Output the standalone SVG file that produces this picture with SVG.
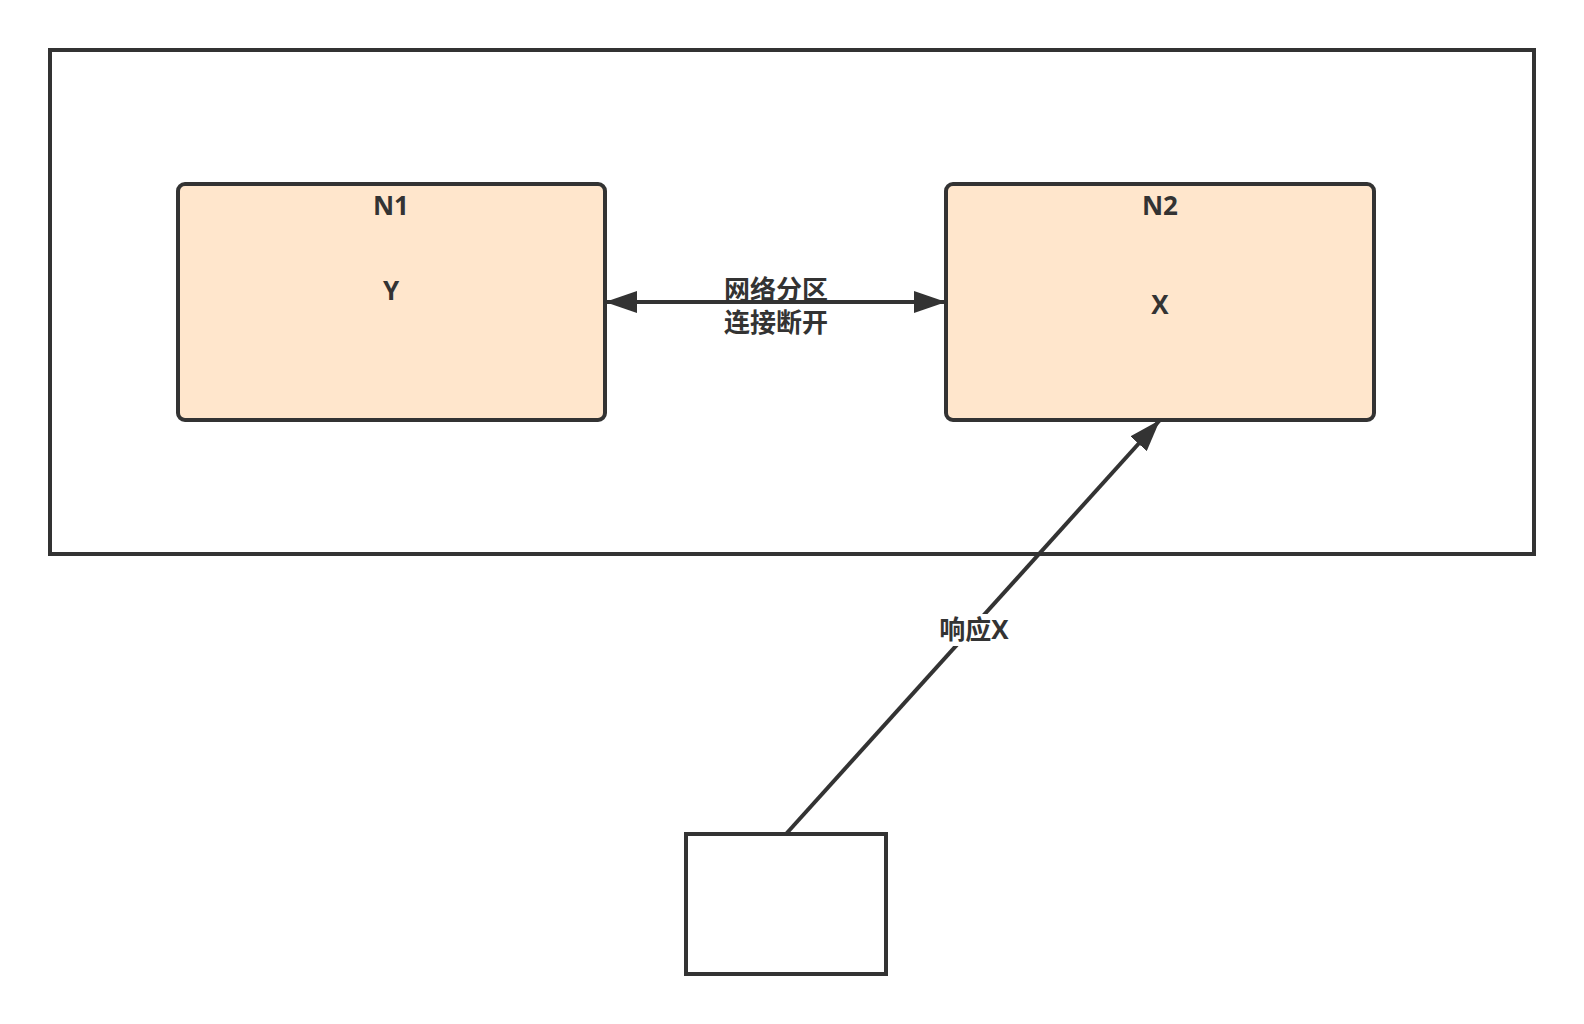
<svg xmlns="http://www.w3.org/2000/svg" width="1584" height="1024" viewBox="0 0 1584 1024">
  <style>
    .box { stroke: #333333; stroke-width: 4; }
    .node { fill: #ffe6cc; }
    .plain { fill: #ffffff; }
    .edge { stroke: #333333; stroke-width: 4; fill: none; }
    .t { font-family: "Open Sans", "Noto Sans CJK SC", sans-serif; font-weight: bold; font-size: 26px; fill: #333333; text-anchor: middle; dominant-baseline: central; }
  </style>
  <defs>
    <marker id="arr" viewBox="0 0 32 22" refX="32" refY="11" markerWidth="32" markerHeight="22" markerUnits="userSpaceOnUse" orient="auto-start-reverse">
      <path d="M0,0 L32,11 L0,22 Z" fill="#333333"/>
    </marker>
  </defs>
  <rect width="1584" height="1024" fill="#ffffff"/>
  <g id="container">
    <rect class="box" x="50" y="50" width="1484" height="504" fill="none"/>
  </g>
  <g id="N1">
    <rect class="box node" x="178" y="184" width="427" height="236" rx="7"/>
    <text class="t" x="391" y="205">N1</text>
    <text class="t" x="391" y="290">Y</text>
  </g>
  <g id="N2">
    <rect class="box node" x="946" y="184" width="428" height="236" rx="7"/>
    <text class="t" x="1160" y="205">N2</text>
    <text class="t" x="1160" y="304">X</text>
  </g>
  <g id="client">
    <rect class="box plain" x="686" y="834" width="200" height="140"/>
  </g>
  <g id="connectors">
    <line class="edge" x1="605" y1="302" x2="946" y2="302" marker-start="url(#arr)" marker-end="url(#arr)"/>
    <text class="t" x="776" y="289">网络分区</text>
    <text class="t" x="776" y="322">连接断开</text>
    <line class="edge" x1="786" y1="834" x2="1160" y2="420" marker-end="url(#arr)"/>
    <rect x="937" y="614" width="74" height="32" fill="#ffffff"/>
    <text class="t" x="974" y="629">响应X</text>
  </g>
</svg>
